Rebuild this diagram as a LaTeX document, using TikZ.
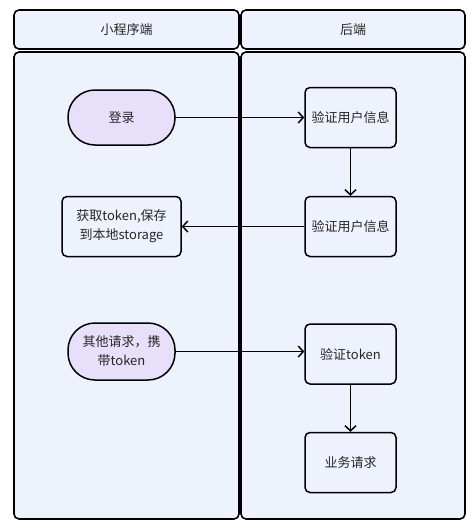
\documentclass[tikz,border=0pt]{standalone}
\usepackage{fontspec}
\setmainfont{Noto Sans CJK SC}
\usetikzlibrary{arrows.meta}
\definecolor{lanefill}{HTML}{EEF2FC}
\definecolor{pillfill}{HTML}{E8E0FA}
\definecolor{boxfill}{HTML}{EEF2FC}
\definecolor{txt}{HTML}{262626}
\tikzset{
  lane/.style={draw=black, line width=1.6pt, rounded corners=5pt, fill=lanefill},
  stepbox/.style={draw=black, line width=1.5pt, rounded corners=5pt, fill=boxfill, minimum width=91pt, minimum height=60pt, align=center, text=txt, font=\fontsize{13}{19}\selectfont},
  pill/.style={draw=black, line width=1.5pt, rounded corners=27pt, fill=pillfill, minimum width=107pt, minimum height=55pt, align=center, text=txt, font=\fontsize{13}{19}\selectfont},
  conn/.style={draw=black, line width=1.6pt, -{Straight Barb[length=5pt,width=11pt,line width=1.5pt]}},
  title/.style={text=txt, font=\fontsize{13}{15}\selectfont}
}
\begin{document}
\begin{tikzpicture}[x=1pt,y=-1pt]
\useasboundingbox (0,0) rectangle (475,528);
\fill[white] (0,0) rectangle (475,528);
% lanes
\draw[lane] (14,52) rectangle (239,519);
\draw[lane] (241,52) rectangle (465,519);
\draw[lane] (14,10) rectangle (239,49);
\draw[lane] (241,10) rectangle (465,49);
\node[title] (hl) at (126.5,30) {小程序端};
\node[title] (hr) at (353,30) {后端};
% nodes
\node[pill] (login) at (121.5,117.5) {登录};
\node[stepbox] (v1) at (350.5,117.5) {验证用户信息};
\node[stepbox] (v2) at (350.5,226.5) {验证用户信息};
\node[stepbox, minimum width=119pt] (store) at (121.5,226.5) {获取token,保存\\到本地storage};
\node[pill, minimum height=57pt] (req) at (121.5,351.5) {其他请求，携\\带token};
\node[stepbox] (vt) at (350.5,354) {验证token};
\node[stepbox] (biz) at (350.5,462.5) {业务请求};
% connectors
\draw[conn] (login) -- (v1);
\draw[conn] (v1) -- (v2);
\draw[conn] (v2) -- (store);
\draw[conn] (req.east) -- (req.east -| vt.west);
\draw[conn] (vt) -- (biz);
\end{tikzpicture}
\end{document}
